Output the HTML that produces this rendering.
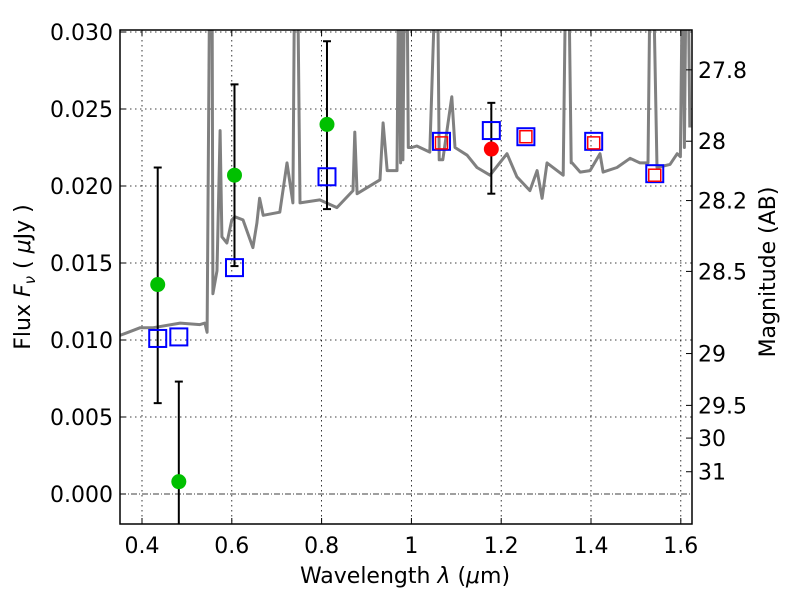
<!DOCTYPE html>
<html><head><meta charset="utf-8"><style>
body{margin:0;background:#fff}
svg text{font-family:"DejaVu Sans","Liberation Sans",sans-serif;fill:#000}
</style></head><body>
<svg id="chart" width="800" height="600" xmlns="http://www.w3.org/2000/svg">
<defs><clipPath id="pc"><rect x="120" y="30" width="572" height="494"/></clipPath></defs>
<rect x="0" y="0" width="800" height="600" fill="#fff"/>
<g id="grid"></g>
<g id="spec" clip-path="url(#pc)"></g>
<g id="marks" clip-path="url(#pc)"></g>
<rect x="120" y="30" width="572" height="494" fill="none" stroke="#000" stroke-width="1.5"/>
<g id="axes"></g>
<text x="405" y="583" font-size="22" text-anchor="middle">Wavelength  <tspan font-style="italic">λ</tspan> (<tspan font-style="italic">μ</tspan>m)</text>
<text transform="translate(30,277) rotate(-90)" font-size="22" text-anchor="middle">Flux  <tspan font-style="italic">F</tspan><tspan font-style="italic" font-size="15" dy="5">ν</tspan><tspan dy="-5">  ( </tspan><tspan font-style="italic">μ</tspan>Jy )</text>
<text transform="translate(775,272) rotate(-90)" font-size="22" text-anchor="middle">Magnitude (AB)</text>
</svg>
<script>
const specLam=[0.351,0.396,0.425,0.485,0.529,0.540,0.545,0.551,0.556,0.558,0.567,0.574,0.578,0.589,0.600,0.607,0.625,0.647,0.656,0.662,0.670,0.707,0.723,0.736,0.740,0.746,0.752,0.796,0.834,0.870,0.874,0.879,0.930,0.937,0.946,0.968,0.972,0.976,0.978,0.981,0.985,0.990,0.993,1.001,1.012,1.041,1.055,1.058,1.062,1.070,1.090,1.097,1.124,1.146,1.175,1.213,1.235,1.264,1.280,1.291,1.302,1.338,1.344,1.350,1.356,1.358,1.376,1.398,1.420,1.427,1.458,1.487,1.509,1.527,1.532,1.538,1.547,1.576,1.592,1.599,1.604,1.608,1.612,1.616,1.620];
const specFlux=[0.0103,0.0108,0.0108,0.0111,0.0110,0.0111,0.0105,0.035,0.035,0.0130,0.0145,0.0236,0.0167,0.0163,0.0178,0.0180,0.0178,0.0160,0.0176,0.0192,0.0181,0.0183,0.0215,0.0189,0.035,0.035,0.0189,0.0191,0.0186,0.0197,0.0235,0.0195,0.0204,0.0241,0.0210,0.0210,0.035,0.0215,0.035,0.0217,0.035,0.035,0.0225,0.0225,0.0226,0.0222,0.035,0.035,0.0217,0.0217,0.0258,0.0225,0.0220,0.0212,0.0207,0.0221,0.0206,0.0197,0.0210,0.0192,0.0215,0.0207,0.035,0.035,0.0215,0.0215,0.0209,0.0210,0.0221,0.0209,0.0212,0.0218,0.0215,0.0215,0.035,0.035,0.0212,0.0214,0.0221,0.0219,0.035,0.0225,0.035,0.035,0.0238];
const greenLam=[0.435,0.482,0.606,0.812];
const greenFlux=[0.0136,0.0008,0.0207,0.0240];
const greenLo=[0.0059,-0.003,0.0148,0.0185];
const greenHi=[0.0212,0.0073,0.0266,0.0294];
const redLam=[1.178];
const redFlux=[0.0224];
const redLo=[0.0195];
const redHi=[0.0254];
const blueLam=[0.435,0.482,0.606,0.812,1.067,1.178,1.255,1.406,1.542];
const blueFlux=[0.0101,0.0102,0.0147,0.0206,0.0229,0.0236,0.0232,0.0229,0.0208];
const rsqLam=[1.067,1.255,1.406,1.542];
const rsqFlux=[0.0228,0.0232,0.0228,0.0207];
const xTicks=[0.4,0.6,0.8,1.0,1.2,1.4,1.6];
const xTickLabels=["0.4","0.6","0.8","1","1.2","1.4","1.6"];
const yTicks=[0,0.005,0.01,0.015,0.02,0.025,0.03];
const yTickLabels=["0.000","0.005","0.010","0.015","0.020","0.025","0.030"];
const magTicks=[27.8,28,28.2,28.5,29,29.5,30,31];
const magLabels=["27.8","28","28.2","28.5","29","29.5","30","31"];

const X=l=>142+(l-0.4)*449;
const Y=v=>494-v*15400;
const NS="http://www.w3.org/2000/svg";
function mk(parent,tag,attrs){const e=document.createElementNS(NS,tag);for(const k in attrs)e.setAttribute(k,attrs[k]);parent.appendChild(e);return e;}
const grid=document.getElementById('grid'),spec=document.getElementById('spec'),marks=document.getElementById('marks'),axes=document.getElementById('axes');

xTicks.forEach((t,i)=>{
  const x=X(t);
  const g=mk(grid,'line',{x1:x,x2:x,y1:30,y2:524,stroke:'#000','stroke-width':0.8,'stroke-dasharray':'1.5,3.5'});
  
  
  mk(axes,'line',{x1:x,x2:x,y1:524,y2:518,stroke:'#000'});
  mk(axes,'line',{x1:x,x2:x,y1:30,y2:36,stroke:'#000'});
  const tx=mk(axes,'text',{x:x,y:553,'font-size':22,'text-anchor':'middle'});
  tx.textContent=xTickLabels[i];
  
  
});
yTicks.forEach((t,i)=>{
  const y=Y(t);
  const g=mk(grid,'line',{x1:120,x2:692,y1:y,y2:y,stroke:'#000','stroke-width':0.8,'stroke-dasharray':(t===0?'6,2,1,2':'1.5,3.5')});
  
  
  mk(axes,'line',{x1:120,x2:126,y1:y,y2:y,stroke:'#000'});
  const tx=mk(axes,'text',{x:113,y:y+8,'font-size':22,'text-anchor':'end'});
  tx.textContent=yTickLabels[i];
  
  
});
magTicks.forEach((m,i)=>{
  const y=Y(Math.pow(10,(23.9-m)/2.5));
  mk(axes,'line',{x1:686,x2:692,y1:y,y2:y,stroke:'#000'});
  const tx=mk(axes,'text',{x:698,y:y+8,'font-size':22,'text-anchor':'start'});
  tx.textContent=magLabels[i];
  
  
});

const pts=specLam.map((l,i)=>X(l).toFixed(1)+','+Y(specFlux[i]).toFixed(1)).join(' ');
const pl=mk(spec,'polyline',{points:pts,fill:'none',stroke:'#808080','stroke-width':3,'stroke-linejoin':'round'});



function errbar(l,lo,hi){
  const x=X(l);
  const e=mk(marks,'line',{x1:x,x2:x,y1:Y(lo),y2:Y(hi),stroke:'#000','stroke-width':2});
  
  
  mk(marks,'line',{x1:x-4,x2:x+4,y1:Y(lo),y2:Y(lo),stroke:'#000','stroke-width':2});
  mk(marks,'line',{x1:x-4,x2:x+4,y1:Y(hi),y2:Y(hi),stroke:'#000','stroke-width':2});
}
greenLam.forEach((l,i)=>errbar(l,greenLo[i],greenHi[i]));
redLam.forEach((l,i)=>errbar(l,redLo[i],redHi[i]));
blueLam.forEach((l,i)=>{
  const r=mk(marks,'rect',{x:X(l)-8.5,y:Y(blueFlux[i])-8.5,width:17,height:17,fill:'none',stroke:'#0000ff','stroke-width':2});
  
  
});
rsqLam.forEach((l,i)=>{
  const r=mk(marks,'rect',{x:X(l)-6,y:Y(rsqFlux[i])-6,width:12,height:12,fill:'none',stroke:'#ff0000','stroke-width':1.5});
  
  
});
greenLam.forEach((l,i)=>{
  const c=mk(marks,'circle',{cx:X(l),cy:Y(greenFlux[i]),r:7.5,fill:'#00c000'});
  
  
});
redLam.forEach((l,i)=>{
  const c=mk(marks,'circle',{cx:X(l),cy:Y(redFlux[i]),r:7.5,fill:'#ff0000'});
  
  
});
</script>
</body></html>
